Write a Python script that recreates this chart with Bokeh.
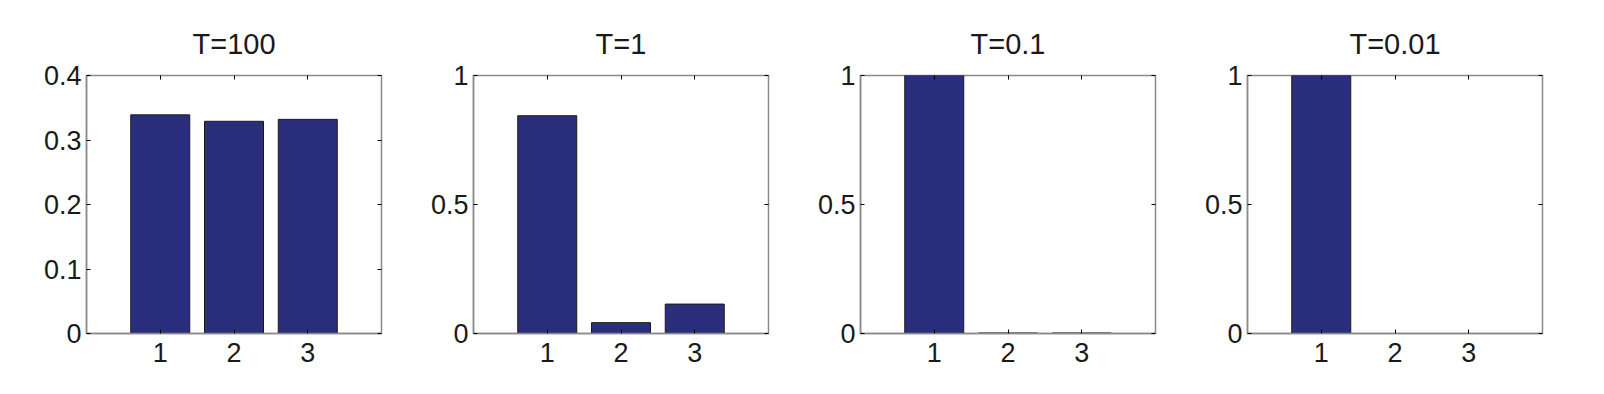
from bokeh.plotting import figure
from bokeh.layouts import row
from bokeh.models import FixedTicker, LinearAxis, CustomJSTickFormatter, Range1d, ColumnDataSource
from bokeh.embed import file_html
from bokeh.resources import INLINE

categories = [1, 2, 3]
titles = ["T=100", "T=1", "T=0.1", "T=0.01"]
p_t100 = [0.339, 0.329, 0.332]
p_t1 = [0.844, 0.042, 0.114]
p_t01 = [1.0, 0.002, 0.002]
p_t001 = [1.0, 0.0, 0.0]
series = [p_t100, p_t1, p_t01, p_t001]
y_max = [0.4, 1.0, 1.0, 1.0]
y_ticks = [[0, 0.1, 0.2, 0.3, 0.4], [0, 0.5, 1], [0, 0.5, 1], [0, 0.5, 1]]

FONT = "Liberation Sans"
BAR = "#2a2e7c"
GRAY = "#8a8a8a"

figs = []
for i in range(4):
    p = figure(width=387, height=394, output_backend="svg", toolbar_location=None,
               x_range=Range1d(0, 4), y_range=Range1d(0, y_max[i]),
               min_border_left=86, min_border_right=6, min_border_top=75, min_border_bottom=61,
               title=titles[i])
    p.title.align = "center"
    p.title.text_font = FONT
    p.title.text_font_size = "29px"
    p.title.text_font_style = "normal"
    p.title.text_color = "#1a1a1a"
    p.title.standoff = 32
    p.grid.visible = False
    p.outline_line_color = GRAY
    p.outline_line_width = 1.5
    p.background_fill_color = "white"
    p.border_fill_color = "white"

    src = ColumnDataSource(dict(x=categories, top=series[i]))
    p.vbar(x="x", top="top", width=0.8, bottom=0, source=src,
           fill_color=BAR, line_color="#1a1a1a", line_width=1)

    fmt = CustomJSTickFormatter(code="return tick.toString()")
    for ax in p.xaxis:
        ax.ticker = FixedTicker(ticks=categories)
        ax.formatter = fmt
    for ax in p.yaxis:
        ax.ticker = FixedTicker(ticks=y_ticks[i])
        ax.formatter = fmt
    for ax in list(p.xaxis) + list(p.yaxis):
        ax.major_label_text_font = FONT
        ax.major_label_text_font_size = "27px"
        ax.major_label_text_color = "#1a1a1a"
        ax.axis_line_color = GRAY
        ax.axis_line_width = 1.5
        ax.major_tick_in = 4
        ax.major_tick_out = 0
        ax.major_tick_line_color = "black"
        ax.minor_tick_line_color = None
    p.xaxis.major_label_standoff = 9
    p.yaxis.major_label_standoff = 5

    blank = CustomJSTickFormatter(code="return ''")
    right = LinearAxis(ticker=FixedTicker(ticks=y_ticks[i]), formatter=blank,
                       axis_line_color=None, major_tick_in=4, major_tick_out=0,
                       major_label_standoff=0,
                       major_tick_line_color="black", minor_tick_line_color=None)
    top = LinearAxis(ticker=FixedTicker(ticks=categories), formatter=blank,
                     axis_line_color=None, major_tick_in=4, major_tick_out=0,
                     major_label_standoff=0,
                     major_tick_line_color="black", minor_tick_line_color=None)
    p.add_layout(right, "right")
    p.add_layout(top, "above")
    figs.append(p)

layout = row(*figs)
open("out.html", "w").write(file_html(layout, INLINE))
